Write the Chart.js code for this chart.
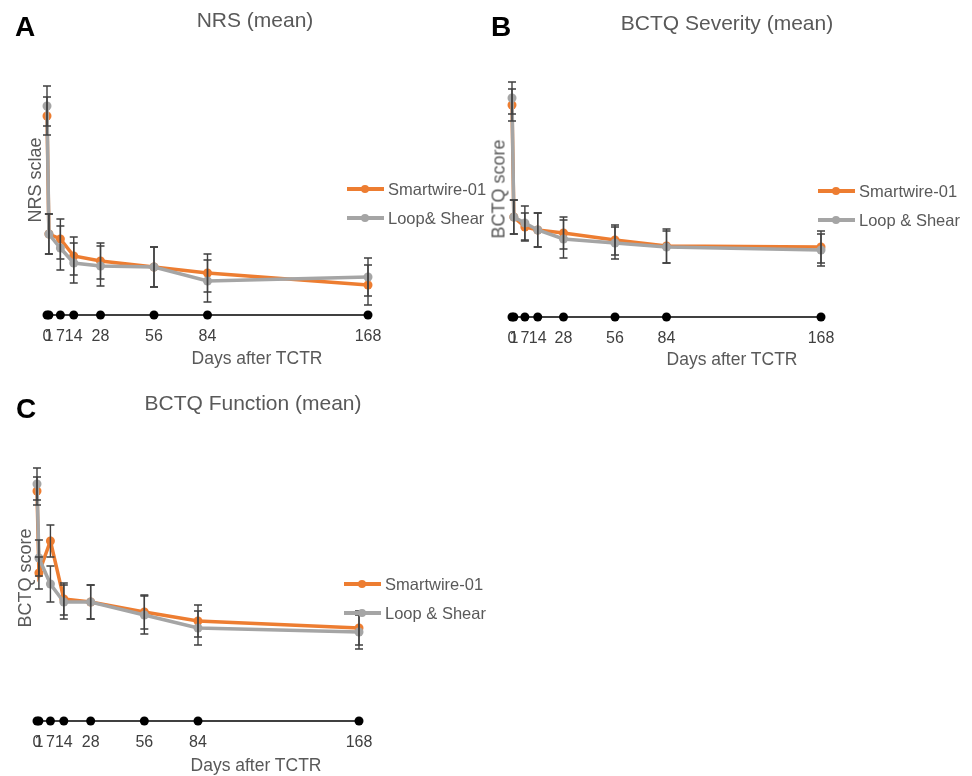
<!DOCTYPE html>
<html>
<head>
<meta charset="utf-8">
<script src="https://cdn.jsdelivr.net/npm/chart.js@4.4.1/dist/chart.umd.min.js"></script>
<style>
  body { margin: 0; background: #fff; font-family: "Liberation Sans", Arial, sans-serif; }
  #page { position: relative; width: 972px; height: 776px; overflow: hidden; }
  canvas { position: absolute; }
  .txt { position: absolute; white-space: nowrap; color: #595959; }
  .letter { position: absolute; font-weight: bold; font-size: 28px; color: #000; line-height: 1; }
  .title { font-size: 21px; transform: translate(-50%, -50%); }
  .xtitle { font-size: 17.5px; transform: translate(-50%, -50%); }
  .ytitle { font-size: 18px; transform: translate(-50%, -50%) rotate(-90deg); }
  .leg { position: absolute; font-size: 16.5px; color: #595959; white-space: nowrap; }
  .leg .ln { position: absolute; left: 0; top: -2px; width: 37px; height: 4px; }
  .leg .dt { position: absolute; left: 14px; top: -4px; width: 8px; height: 8px; border-radius: 50%; }
  .leg .lb { position: absolute; left: 41px; top: -10px; line-height: 20px; }
</style>
</head>
<body>
<div id="page">
  <canvas id="chartA" width="480" height="380" style="left:0;top:0"></canvas>
  <canvas id="chartB" width="492" height="380" style="left:480px;top:0"></canvas>
  <canvas id="chartC" width="500" height="396" style="left:0;top:380px"></canvas>

  <div class="letter" style="left:15px;top:13px">A</div>
  <div class="letter" style="left:491px;top:13px">B</div>
  <div class="letter" style="left:16px;top:395px">C</div>

  <div class="txt title" style="left:255px;top:20px">NRS (mean)</div>
  <div class="txt title" style="left:727px;top:23px">BCTQ Severity (mean)</div>
  <div class="txt title" style="left:253px;top:403px">BCTQ Function (mean)</div>

  <div class="txt ytitle" style="left:35px;top:180px">NRS sclae</div>
  <div class="txt ytitle" style="left:499px;top:189px">BCTQ score</div>
  <div class="txt ytitle" style="left:25px;top:578px">BCTQ score</div>

  <div class="txt xtitle" style="left:257px;top:358px">Days after TCTR</div>
  <div class="txt xtitle" style="left:732px;top:359px">Days after TCTR</div>
  <div class="txt xtitle" style="left:256px;top:765px">Days after TCTR</div>

  <div id="legends"></div>
</div>

<script>
// jours de mesure
const days = [0, 1, 7, 14, 28, 56, 84, 168];
const dayLabels = ['0', '1', '7', '14', '28', '56', '84', '168'];
const seriesNames = ['Smartwire-01', 'Loop & Shear'];

// A - NRS (moyenne) et écarts
const nrsSmart = [9.95, 4.05, 3.8, 2.95, 2.7, 2.4, 2.1, 1.5];
const nrsSmartErr = [0.95, 1.0, 1.0, 0.95, 0.9, 1.0, 0.95, 1.0];
const nrsLoop = [10.45, 4.05, 3.35, 2.6, 2.45, 2.4, 1.7, 1.9];
const nrsLoopErr = [1.0, 1.0, 1.1, 1.0, 1.0, 1.0, 1.05, 0.95];

// B - BCTQ Severity
const sevSmart = [10.6, 5.0, 4.5, 4.35, 4.2, 3.85, 3.55, 3.5];
const sevSmartErr = [0.8, 0.85, 0.7, 0.85, 0.8, 0.75, 0.85, 0.8];
const sevLoop = [10.95, 5.0, 4.7, 4.35, 3.9, 3.7, 3.5, 3.35];
const sevLoopErr = [0.8, 0.85, 0.85, 0.85, 0.95, 0.8, 0.8, 0.8];

// C - BCTQ Function
const funcSmart = [11.5, 7.4, 9.0, 6.1, 5.95, 5.45, 5.0, 4.65];
const funcSmartErr = [0.7, 0.8, 0.8, 0.8, 0.85, 0.85, 0.8, 0.85];
const funcLoop = [11.85, 8.15, 6.85, 5.95, 5.95, 5.3, 4.65, 4.45];
const funcLoopErr = [0.8, 0.9, 0.9, 0.85, 0.85, 0.95, 0.85, 0.85];

const ORANGE = '#ED7D31';
const GRAY = '#A5A5A5';

// barres d'erreur dessinées avec les échelles du graphique
const errorBars = {
  id: 'errorBars',
  afterDatasetsDraw(chart) {
    const { ctx, scales: { x, y } } = chart;
    ctx.save();
    ctx.strokeStyle = '#3f3f3f';
    ctx.lineWidth = 1.4;
    chart.data.datasets.forEach(ds => {
      if (!ds.errors) return;
      ds.data.forEach((p, i) => {
        const px = x.getPixelForValue(p.x);
        const top = y.getPixelForValue(p.y + ds.errors[i]);
        const bot = y.getPixelForValue(p.y - ds.errors[i]);
        ctx.beginPath();
        ctx.moveTo(px, top); ctx.lineTo(px, bot);
        ctx.moveTo(px - 4, top); ctx.lineTo(px + 4, top);
        ctx.moveTo(px - 4, bot); ctx.lineTo(px + 4, bot);
        ctx.stroke();
      });
    });
    ctx.restore();
  }
};

function serie(label, vals, errs, color, order) {
  return {
    label: label,
    data: days.map((d, i) => ({ x: d, y: vals[i] })),
    errors: errs,
    borderColor: color,
    backgroundColor: color,
    borderWidth: 3.5,
    pointRadius: 4.5,
    pointBorderWidth: 0,
    tension: 0,
    clip: false,
    order: order
  };
}

function makeChart(id, smart, smartErr, loop, loopErr, box) {
  const canvas = document.getElementById(id);
  const H = canvas.height;
  return new Chart(canvas, {
    type: 'line',
    data: {
      datasets: [
        serie(seriesNames[0], smart, smartErr, ORANGE, 2),
        serie(seriesNames[1], loop, loopErr, GRAY, 1),
        {
          label: 'timeline',
          data: days.map(d => ({ x: d, y: 0 })),
          borderColor: '#000',
          backgroundColor: '#000',
          borderWidth: 1.5,
          pointRadius: 4.5,
          pointBorderWidth: 0,
          clip: false,
          order: 3
        }
      ]
    },
    options: {
      responsive: false,
      animation: false,
      layout: { padding: { left: box.left, right: canvas.width - box.right, top: box.top, bottom: 0 } },
      plugins: { legend: { display: false }, tooltip: { enabled: false }, title: { display: false } },
      scales: {
        x: {
          type: 'linear',
          min: 0,
          max: 168,
          grid: { display: false, drawTicks: false },
          border: { display: false },
          afterBuildTicks: scale => { scale.ticks = days.map(v => ({ value: v })); },
          afterFit: scale => { scale.height = H - box.bottom; },
          ticks: {
            autoSkip: false,
            maxRotation: 0,
            minRotation: 0,
            padding: 12,
            color: '#404040',
            font: { family: 'Liberation Sans', size: 16 },
            callback: (v, i) => dayLabels[i]
          }
        },
        y: { display: false, min: 0, max: box.ymax }
      }
    },
    plugins: [errorBars]
  });
}

makeChart('chartA', nrsSmart, nrsSmartErr, nrsLoop, nrsLoopErr, { left: 47, right: 368, top: 75, bottom: 315, ymax: 12 });
makeChart('chartB', sevSmart, sevSmartErr, sevLoop, sevLoopErr, { left: 32, right: 341, top: 77, bottom: 317, ymax: 12 });
makeChart('chartC', funcSmart, funcSmartErr, funcLoop, funcLoopErr, { left: 37, right: 359, top: 81, bottom: 341, ymax: 13 });

// légendes
const legendSpots = [
  { x: 347, y: 189, names: ['Smartwire-01', 'Loop& Shear'] },
  { x: 818, y: 191, names: seriesNames },
  { x: 344, y: 584, names: seriesNames }
];
const legendBox = document.getElementById('legends');
legendSpots.forEach(spot => {
  [ORANGE, GRAY].forEach((c, k) => {
    const el = document.createElement('div');
    el.className = 'leg';
    el.style.left = spot.x + 'px';
    el.style.top = (spot.y + k * 29) + 'px';
    el.innerHTML = '<div class="ln" style="background:' + c + '"></div>' +
      '<div class="dt" style="background:' + c + '"></div>' +
      '<div class="lb">' + spot.names[k] + '</div>';
    legendBox.appendChild(el);
  });
});
</script>
</body>
</html>
